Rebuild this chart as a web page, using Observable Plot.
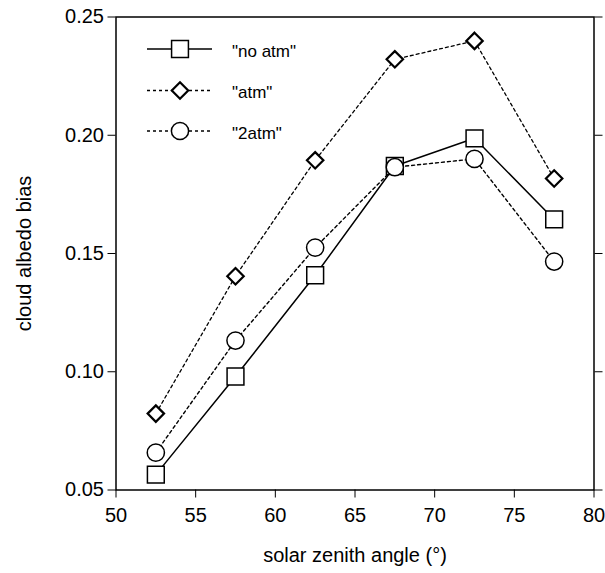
<!DOCTYPE html>
<html><head><meta charset="utf-8">
<script src="https://cdn.jsdelivr.net/npm/d3@7"></script>
<script src="https://cdn.jsdelivr.net/npm/@observablehq/plot@0.6"></script>
<style>body{margin:0;background:#fff} #chart{width:605px;height:573px}</style>
</head><body><div id="chart"></div>
<script>
const angles = [52.5, 57.5, 62.5, 67.5, 72.5, 77.5];
const noAtm  = [0.0565, 0.0980, 0.1408, 0.1870, 0.1987, 0.1644];
const atm    = [0.0823, 0.1404, 0.1894, 0.2321, 0.2399, 0.1817];
const twoAtm = [0.0658, 0.1132, 0.1525, 0.1865, 0.1900, 0.1466];
const seriesNames = ['"no atm"', '"atm"', '"2atm"'];
const xTicks = [50, 55, 60, 65, 70, 75, 80];
const yTicks = [0.05, 0.10, 0.15, 0.20, 0.25];

const styles = {
  '"no atm"': {symbol: "square", r: 9.5, dash: null, lw: 1.5, sw: 1.5},
  '"atm"':    {symbol: "diamond2", r: 7.4, dash: "3,3", lw: 1.3, sw: 2.2},
  '"2atm"':   {symbol: "circle", r: 8.6, dash: "3,3", lw: 1.4, sw: 1.5}
};
const seriesVals = [noAtm, atm, twoAtm];
const series = seriesNames.map((name, i) => angles.map((a, j) => ({name, x: a, y: seriesVals[i][j]})));

const marks = [
  Plot.frame({stroke: "black", strokeWidth: 1.5}),
  Plot.axisX({ticks: xTicks, tickSize: 8, tickPadding: 10, fontSize: 20, label: "solar zenith angle (°)", labelAnchor: "center", labelArrow: "none", labelOffset: 72}),
  Plot.axisY({ticks: yTicks, tickFormat: d3.format(".2f"), tickSize: 8, tickPadding: 4, fontSize: 20, label: "cloud albedo bias", labelAnchor: "center", labelArrow: "none", labelOffset: 99}),
  Plot.axisY({anchor: "right", ticks: yTicks, tickSize: 8, tickFormat: () => "", label: null})
];
// lines first, then markers on top
series.forEach((d, i) => {
  const s = styles[seriesNames[i]];
  marks.push(Plot.line(d, {x: "x", y: "y", stroke: "black", strokeWidth: s.lw, strokeDasharray: s.dash}));
});
series.forEach((d, i) => {
  const s = styles[seriesNames[i]];
  marks.push(Plot.dot(d, {x: "x", y: "y", symbol: () => s.symbol, r: s.r, fill: "white", stroke: "black", strokeWidth: s.sw}));
});

const svg = Plot.plot({
  width: 605, height: 573,
  marginLeft: 115.5, marginRight: 11.5, marginTop: 16.5, marginBottom: 83.5,
  x: {domain: [50, 80]},
  y: {domain: [0.05, 0.25]},
  style: {fontFamily: "'Liberation Sans', Arial, sans-serif", fontSize: "20px", color: "black", background: "white"},
  marks
});
document.getElementById("chart").appendChild(svg);

// legend inside the frame, top-left
const symbolTypes = {square: d3.symbolSquare, diamond2: d3.symbolDiamond2, circle: d3.symbolCircle};
const lg = d3.select(svg).append("g").attr("class", "legend");
const legendY = [49, 90.5, 131];
seriesNames.forEach((name, i) => {
  const s = styles[name];
  const g = lg.append("g").attr("transform", `translate(0,${legendY[i]})`);
  g.append("line").attr("x1", 147).attr("x2", 212).attr("y1", 0).attr("y2", 0)
    .attr("stroke", "black").attr("stroke-width", s.lw).attr("stroke-dasharray", s.dash);
  g.append("path").attr("transform", "translate(180,0)")
    .attr("d", d3.symbol().type(symbolTypes[s.symbol]).size(Math.PI * s.r * s.r)())
    .attr("fill", "white").attr("stroke", "black").attr("stroke-width", s.sw);
  g.append("text").attr("x", 232).attr("y", 2).attr("dy", "0.35em")
    .attr("text-anchor", "start")
    .attr("font-family", "'Liberation Sans', Arial, sans-serif").attr("font-size", 17)
    .attr("fill", "black").text(name);
});
</script></body></html>
